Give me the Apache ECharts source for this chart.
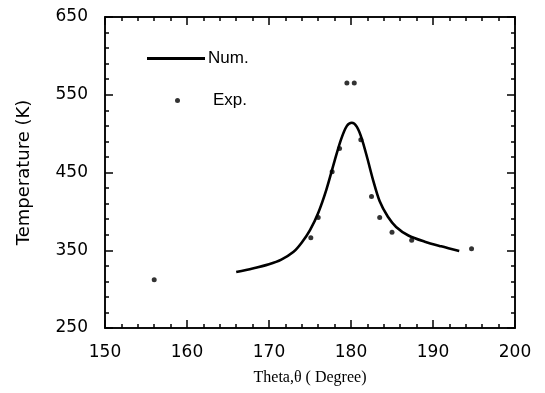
<!DOCTYPE html>
<html>
<head>
<meta charset="utf-8">
<script src="https://cdn.jsdelivr.net/npm/echarts@6/dist/echarts.min.js"></script>
<style>html,body{margin:0;padding:0;background:#fff;}#c{width:545px;height:393px;}</style>
</head>
<body>
<div id="c"></div>
<script>
// Numerical curve (Theta in degrees, Temperature in K)
const numTheta = [166, 168, 170, 171.5, 173, 174, 175, 176, 177, 178, 178.8, 179.5, 180.1, 180.7, 181.3, 182, 182.7, 183.5, 184.5, 185.5, 187, 189, 191, 193.2];
const numTemp  = [322, 326.5, 332, 338, 348, 360, 376, 398, 428, 465, 493, 510, 514, 509, 494, 468, 440, 413, 393, 380, 369, 361, 355, 349];
// Experimental points
const expTheta = [156, 175.1, 176.0, 177.7, 178.6, 179.5, 180.4, 181.2, 182.5, 183.5, 185.0, 187.4, 194.7];
const expTemp  = [312, 366, 392, 451, 481, 565, 565, 492, 419, 392, 373, 363, 352];
const xTicks = [150, 160, 170, 180, 190, 200];
const yTicks = [250, 350, 450, 550, 650];

const chart = echarts.init(document.getElementById('c'));
const axisFont = {fontFamily: 'DejaVu Sans', fontSize: 17, color: '#000'};

function xAx(pos, interval, len, labels) {
  const a = {type: 'value', min: 150, max: 200, interval: interval, position: pos,
    axisLine: {show: true, onZero: false, lineStyle: {color: '#000', width: 1.5}},
    axisTick: {show: true, inside: true, length: len, lineStyle: {color: '#000', width: 1.5}},
    axisLabel: {show: false}, splitLine: {show: false}};
  if (labels) {
    a.axisLabel = Object.assign({show: true, margin: 16, formatter: v => xTicks.includes(v) ? String(v) : ''}, axisFont);
    a.name = 'Theta,θ ( Degree)'; a.nameLocation = 'middle'; a.nameGap = 42;
    a.nameTextStyle = {fontFamily: 'Liberation Serif', fontSize: 16, color: '#000'};
  }
  return a;
}
function yAx(pos, interval, len, labels) {
  const a = {type: 'value', min: 250, max: 650, interval: interval, position: pos,
    axisLine: {show: true, onZero: false, lineStyle: {color: '#000', width: 1.5}},
    axisTick: {show: true, inside: true, length: len, lineStyle: {color: '#000', width: 1.5}},
    axisLabel: {show: false}, splitLine: {show: false}};
  if (labels) {
    a.axisLabel = Object.assign({show: true, margin: 17, formatter: v => yTicks.includes(v) ? String(v) : ''}, axisFont);
    a.name = 'Temperature (K)'; a.nameLocation = 'middle'; a.nameGap = 72; a.nameRotate = 90;
    a.nameTextStyle = {fontFamily: 'DejaVu Sans', fontSize: 18, color: '#000'};
  }
  return a;
}

chart.setOption({
  animation: false,
  backgroundColor: '#fff',
  grid: {left: 105, right: 30, top: 17, bottom: 65},
  legend: [
    {data: [{name: 'Num.', icon: 'rect'}], left: 147, top: 50, padding: 0, itemWidth: 58, itemHeight: 3, itemGap: 0,
     textStyle: {fontFamily: 'Liberation Sans', fontSize: 17, color: '#000', padding: [0, 0, 0, -2]}},
    {data: [{name: 'Exp.', icon: 'circle'}], left: 175, top: 92, padding: 0, itemWidth: 5, itemHeight: 5, itemGap: 0,
     textStyle: {fontFamily: 'Liberation Sans', fontSize: 17, color: '#000', padding: [0, 0, 0, 28]}}
  ],
  xAxis: [
    xAx('bottom', 10, 8, true),
    xAx('bottom', 2, 4, false),
    xAx('top', 10, 8, false),
    xAx('top', 2, 4, false)
  ],
  yAxis: [
    yAx('left', 100, 8, true),
    yAx('left', 20, 4, false),
    yAx('right', 100, 8, false),
    yAx('right', 20, 4, false)
  ],
  series: [
    {name: 'Num.', type: 'line', xAxisIndex: 0, yAxisIndex: 0, smooth: 0.3, showSymbol: false,
     lineStyle: {color: '#000', width: 2.6}, itemStyle: {color: '#000'},
     data: numTheta.map((x, i) => [x, numTemp[i]])},
    {name: 'Exp.', type: 'scatter', xAxisIndex: 0, yAxisIndex: 0, symbol: 'circle', symbolSize: 5,
     itemStyle: {color: '#000'},
     data: expTheta.map((x, i) => [x, expTemp[i]])}
  ]
});
</script>
</body>
</html>
